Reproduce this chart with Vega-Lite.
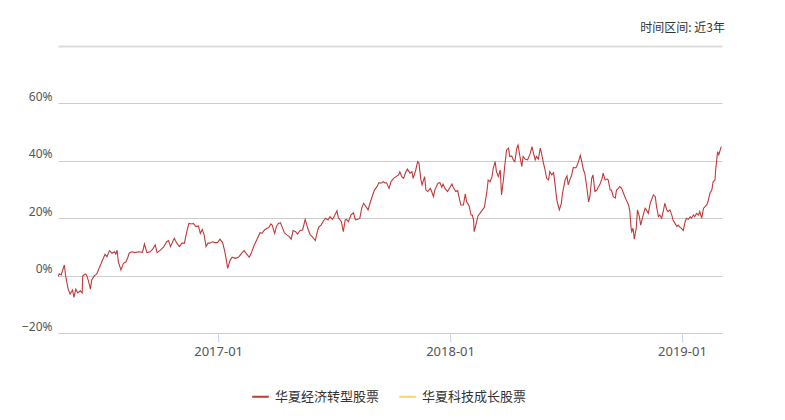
{
  "$schema": "https://vega.github.io/schema/vega-lite/v6.json",
  "width": 664,
  "height": 287,
  "autosize": {"type": "none"},
  "padding": {"left": 58, "top": 46, "right": 63, "bottom": 87},
  "background": "white",
  "title": {"text": "时间区间:  近3年", "anchor": "end", "orient": "top", "offset": 11, "dx": 3, "fontSize": 12, "fontWeight": "normal", "color": "#333333", "font": "Noto Sans CJK SC"},
  "config": {"view": {"stroke": null}},
  "data": {"values": [
    {"date": "2016-04-24", "v": -0.4}, {"date": "2016-04-26", "v": 0.6}, {"date": "2016-04-29", "v": 0.2}, {"date": "2016-05-04", "v": 3.7},
    {"date": "2016-05-06", "v": -0.1}, {"date": "2016-05-10", "v": -4.7}, {"date": "2016-05-13", "v": -6.4}, {"date": "2016-05-17", "v": -5.0},
    {"date": "2016-05-19", "v": -7.6}, {"date": "2016-05-22", "v": -4.7}, {"date": "2016-05-25", "v": -6.0}, {"date": "2016-05-29", "v": -5.3},
    {"date": "2016-06-01", "v": -6.0}, {"date": "2016-06-02", "v": -0.1}, {"date": "2016-06-06", "v": 0.6}, {"date": "2016-06-08", "v": 0.2},
    {"date": "2016-06-11", "v": -1.9}, {"date": "2016-06-14", "v": -4.7}, {"date": "2016-06-16", "v": -1.5}, {"date": "2016-06-20", "v": -0.1},
    {"date": "2016-06-24", "v": 0.6}, {"date": "2016-06-27", "v": 2.2}, {"date": "2016-07-02", "v": 4.8}, {"date": "2016-07-07", "v": 7.4},
    {"date": "2016-07-10", "v": 6.6}, {"date": "2016-07-14", "v": 8.7}, {"date": "2016-07-18", "v": 7.8}, {"date": "2016-07-22", "v": 8.3},
    {"date": "2016-07-24", "v": 7.5}, {"date": "2016-07-26", "v": 8.9}, {"date": "2016-07-28", "v": 4.8}, {"date": "2016-08-01", "v": 2.0},
    {"date": "2016-08-05", "v": 4.3}, {"date": "2016-08-09", "v": 4.8}, {"date": "2016-08-12", "v": 6.4}, {"date": "2016-08-14", "v": 7.8},
    {"date": "2016-08-18", "v": 8.3}, {"date": "2016-08-23", "v": 8.0}, {"date": "2016-08-29", "v": 8.3}, {"date": "2016-09-04", "v": 8.1},
    {"date": "2016-09-07", "v": 11.0}, {"date": "2016-09-11", "v": 8.0}, {"date": "2016-09-16", "v": 8.3}, {"date": "2016-09-20", "v": 9.2},
    {"date": "2016-09-24", "v": 10.7}, {"date": "2016-09-27", "v": 8.0}, {"date": "2016-10-02", "v": 8.9}, {"date": "2016-10-07", "v": 9.9},
    {"date": "2016-10-12", "v": 11.8}, {"date": "2016-10-15", "v": 12.2}, {"date": "2016-10-18", "v": 10.1}, {"date": "2016-10-21", "v": 11.5},
    {"date": "2016-10-24", "v": 13.0}, {"date": "2016-10-28", "v": 11.3}, {"date": "2016-11-01", "v": 10.1}, {"date": "2016-11-05", "v": 11.3},
    {"date": "2016-11-09", "v": 11.3}, {"date": "2016-11-11", "v": 13.6}, {"date": "2016-11-14", "v": 16.5}, {"date": "2016-11-16", "v": 18.2},
    {"date": "2016-11-21", "v": 18.0}, {"date": "2016-11-23", "v": 18.2}, {"date": "2016-11-27", "v": 17.1}, {"date": "2016-12-01", "v": 17.3},
    {"date": "2016-12-04", "v": 14.7}, {"date": "2016-12-07", "v": 16.1}, {"date": "2016-12-10", "v": 14.2}, {"date": "2016-12-13", "v": 10.1},
    {"date": "2016-12-16", "v": 11.3}, {"date": "2016-12-19", "v": 11.3}, {"date": "2016-12-23", "v": 11.8}, {"date": "2016-12-27", "v": 11.5},
    {"date": "2016-12-31", "v": 11.5}, {"date": "2017-01-04", "v": 12.7}, {"date": "2017-01-08", "v": 11.5}, {"date": "2017-01-11", "v": 8.9},
    {"date": "2017-01-14", "v": 5.4}, {"date": "2017-01-16", "v": 2.5}, {"date": "2017-01-20", "v": 5.4}, {"date": "2017-01-23", "v": 6.4},
    {"date": "2017-01-28", "v": 6.0}, {"date": "2017-02-02", "v": 6.4}, {"date": "2017-02-07", "v": 7.8}, {"date": "2017-02-11", "v": 8.7},
    {"date": "2017-02-15", "v": 7.5}, {"date": "2017-02-19", "v": 6.4}, {"date": "2017-02-23", "v": 8.3}, {"date": "2017-02-27", "v": 10.7},
    {"date": "2017-03-04", "v": 13.0}, {"date": "2017-03-08", "v": 15.0}, {"date": "2017-03-11", "v": 14.7}, {"date": "2017-03-15", "v": 15.9},
    {"date": "2017-03-19", "v": 16.5}, {"date": "2017-03-22", "v": 16.8}, {"date": "2017-03-25", "v": 18.0}, {"date": "2017-03-27", "v": 17.6},
    {"date": "2017-03-31", "v": 14.7}, {"date": "2017-04-03", "v": 17.3}, {"date": "2017-04-06", "v": 18.2}, {"date": "2017-04-09", "v": 18.4},
    {"date": "2017-04-12", "v": 16.8}, {"date": "2017-04-15", "v": 15.0}, {"date": "2017-04-19", "v": 14.2}, {"date": "2017-04-23", "v": 13.6},
    {"date": "2017-04-26", "v": 12.7}, {"date": "2017-04-29", "v": 15.7}, {"date": "2017-05-03", "v": 15.3}, {"date": "2017-05-06", "v": 14.5},
    {"date": "2017-05-10", "v": 15.7}, {"date": "2017-05-14", "v": 15.9}, {"date": "2017-05-18", "v": 19.6}, {"date": "2017-05-21", "v": 17.3},
    {"date": "2017-05-23", "v": 15.9}, {"date": "2017-05-26", "v": 14.2}, {"date": "2017-05-29", "v": 13.6}, {"date": "2017-06-03", "v": 12.2},
    {"date": "2017-06-05", "v": 14.2}, {"date": "2017-06-08", "v": 16.8}, {"date": "2017-06-12", "v": 17.6}, {"date": "2017-06-16", "v": 19.1},
    {"date": "2017-06-19", "v": 20.0}, {"date": "2017-06-23", "v": 19.4}, {"date": "2017-06-26", "v": 20.5}, {"date": "2017-06-30", "v": 19.6},
    {"date": "2017-07-03", "v": 20.8}, {"date": "2017-07-07", "v": 22.6}, {"date": "2017-07-09", "v": 20.3}, {"date": "2017-07-14", "v": 18.8},
    {"date": "2017-07-17", "v": 15.3}, {"date": "2017-07-20", "v": 19.4}, {"date": "2017-07-22", "v": 19.6}, {"date": "2017-07-25", "v": 18.8},
    {"date": "2017-07-29", "v": 21.1}, {"date": "2017-08-02", "v": 21.9}, {"date": "2017-08-05", "v": 19.4}, {"date": "2017-08-09", "v": 19.6},
    {"date": "2017-08-12", "v": 20.0}, {"date": "2017-08-15", "v": 23.5}, {"date": "2017-08-18", "v": 25.2}, {"date": "2017-08-20", "v": 24.6},
    {"date": "2017-08-25", "v": 22.9}, {"date": "2017-08-28", "v": 25.2}, {"date": "2017-08-31", "v": 27.3}, {"date": "2017-09-04", "v": 29.8},
    {"date": "2017-09-08", "v": 31.0}, {"date": "2017-09-11", "v": 32.4}, {"date": "2017-09-14", "v": 32.2}, {"date": "2017-09-18", "v": 32.7},
    {"date": "2017-09-21", "v": 32.2}, {"date": "2017-09-23", "v": 32.4}, {"date": "2017-09-27", "v": 30.4}, {"date": "2017-09-30", "v": 32.7},
    {"date": "2017-10-04", "v": 33.9}, {"date": "2017-10-08", "v": 34.5}, {"date": "2017-10-12", "v": 35.1}, {"date": "2017-10-14", "v": 36.2},
    {"date": "2017-10-17", "v": 34.5}, {"date": "2017-10-20", "v": 33.9}, {"date": "2017-10-23", "v": 35.9}, {"date": "2017-10-26", "v": 37.1},
    {"date": "2017-10-30", "v": 35.7}, {"date": "2017-11-02", "v": 36.2}, {"date": "2017-11-04", "v": 33.9}, {"date": "2017-11-08", "v": 36.8},
    {"date": "2017-11-11", "v": 39.7}, {"date": "2017-11-13", "v": 39.2}, {"date": "2017-11-16", "v": 33.6}, {"date": "2017-11-18", "v": 31.6},
    {"date": "2017-11-22", "v": 34.5}, {"date": "2017-11-24", "v": 29.8}, {"date": "2017-11-27", "v": 29.3}, {"date": "2017-12-01", "v": 30.4},
    {"date": "2017-12-03", "v": 29.3}, {"date": "2017-12-06", "v": 27.5}, {"date": "2017-12-08", "v": 29.8}, {"date": "2017-12-13", "v": 32.2},
    {"date": "2017-12-16", "v": 32.4}, {"date": "2017-12-19", "v": 30.8}, {"date": "2017-12-21", "v": 31.9}, {"date": "2017-12-24", "v": 30.4},
    {"date": "2017-12-28", "v": 29.3}, {"date": "2018-01-01", "v": 30.8}, {"date": "2018-01-04", "v": 31.9}, {"date": "2018-01-06", "v": 30.8},
    {"date": "2018-01-10", "v": 29.3}, {"date": "2018-01-13", "v": 29.6}, {"date": "2018-01-15", "v": 27.5}, {"date": "2018-01-18", "v": 24.6},
    {"date": "2018-01-22", "v": 24.6}, {"date": "2018-01-25", "v": 28.5}, {"date": "2018-01-27", "v": 25.8}, {"date": "2018-01-31", "v": 24.3},
    {"date": "2018-02-03", "v": 21.1}, {"date": "2018-02-05", "v": 21.1}, {"date": "2018-02-07", "v": 19.4}, {"date": "2018-02-08", "v": 15.3},
    {"date": "2018-02-10", "v": 17.1}, {"date": "2018-02-14", "v": 20.8}, {"date": "2018-02-17", "v": 21.7}, {"date": "2018-02-21", "v": 22.9},
    {"date": "2018-02-24", "v": 23.8}, {"date": "2018-02-28", "v": 29.3}, {"date": "2018-03-02", "v": 33.3}, {"date": "2018-03-05", "v": 32.7},
    {"date": "2018-03-08", "v": 34.5}, {"date": "2018-03-10", "v": 37.4}, {"date": "2018-03-13", "v": 39.7}, {"date": "2018-03-15", "v": 36.2},
    {"date": "2018-03-18", "v": 34.5}, {"date": "2018-03-21", "v": 36.8}, {"date": "2018-03-23", "v": 28.1}, {"date": "2018-03-26", "v": 33.3},
    {"date": "2018-03-28", "v": 38.0}, {"date": "2018-03-31", "v": 43.8}, {"date": "2018-04-03", "v": 44.4}, {"date": "2018-04-05", "v": 41.5},
    {"date": "2018-04-08", "v": 41.7}, {"date": "2018-04-11", "v": 40.1}, {"date": "2018-04-13", "v": 39.7}, {"date": "2018-04-16", "v": 44.4},
    {"date": "2018-04-18", "v": 45.5}, {"date": "2018-04-21", "v": 41.5}, {"date": "2018-04-24", "v": 38.0}, {"date": "2018-04-26", "v": 41.5},
    {"date": "2018-04-29", "v": 40.6}, {"date": "2018-05-03", "v": 40.3}, {"date": "2018-05-07", "v": 42.4}, {"date": "2018-05-10", "v": 44.9},
    {"date": "2018-05-12", "v": 42.9}, {"date": "2018-05-15", "v": 40.3}, {"date": "2018-05-17", "v": 41.5}, {"date": "2018-05-20", "v": 40.6},
    {"date": "2018-05-23", "v": 44.4}, {"date": "2018-05-25", "v": 42.6}, {"date": "2018-05-28", "v": 39.2}, {"date": "2018-05-30", "v": 37.4},
    {"date": "2018-06-02", "v": 33.9}, {"date": "2018-06-05", "v": 33.3}, {"date": "2018-06-07", "v": 36.2}, {"date": "2018-06-10", "v": 35.1},
    {"date": "2018-06-13", "v": 35.9}, {"date": "2018-06-15", "v": 32.2}, {"date": "2018-06-18", "v": 26.4}, {"date": "2018-06-20", "v": 24.6},
    {"date": "2018-06-22", "v": 22.9}, {"date": "2018-06-25", "v": 25.0}, {"date": "2018-06-27", "v": 28.7}, {"date": "2018-07-01", "v": 33.3},
    {"date": "2018-07-04", "v": 34.7}, {"date": "2018-07-06", "v": 31.6}, {"date": "2018-07-09", "v": 33.7}, {"date": "2018-07-11", "v": 34.7},
    {"date": "2018-07-14", "v": 37.7}, {"date": "2018-07-17", "v": 37.5}, {"date": "2018-07-19", "v": 37.9}, {"date": "2018-07-22", "v": 39.6},
    {"date": "2018-07-25", "v": 41.9}, {"date": "2018-07-27", "v": 40.0}, {"date": "2018-07-30", "v": 36.8}, {"date": "2018-08-01", "v": 35.7},
    {"date": "2018-08-04", "v": 31.2}, {"date": "2018-08-07", "v": 25.7}, {"date": "2018-08-09", "v": 27.4}, {"date": "2018-08-12", "v": 34.0},
    {"date": "2018-08-14", "v": 35.1}, {"date": "2018-08-17", "v": 29.3}, {"date": "2018-08-20", "v": 29.8}, {"date": "2018-08-22", "v": 30.7},
    {"date": "2018-08-25", "v": 31.9}, {"date": "2018-08-28", "v": 33.7}, {"date": "2018-08-30", "v": 35.7}, {"date": "2018-09-02", "v": 33.3},
    {"date": "2018-09-05", "v": 33.7}, {"date": "2018-09-07", "v": 33.3}, {"date": "2018-09-10", "v": 29.8}, {"date": "2018-09-12", "v": 29.8},
    {"date": "2018-09-15", "v": 27.5}, {"date": "2018-09-18", "v": 27.0}, {"date": "2018-09-20", "v": 29.8}, {"date": "2018-09-23", "v": 30.4},
    {"date": "2018-09-25", "v": 31.0}, {"date": "2018-09-28", "v": 30.4}, {"date": "2018-10-01", "v": 28.7}, {"date": "2018-10-04", "v": 27.0},
    {"date": "2018-10-09", "v": 24.6}, {"date": "2018-10-11", "v": 22.3}, {"date": "2018-10-13", "v": 16.5}, {"date": "2018-10-14", "v": 15.3},
    {"date": "2018-10-16", "v": 16.5}, {"date": "2018-10-18", "v": 12.7}, {"date": "2018-10-21", "v": 16.5}, {"date": "2018-10-23", "v": 22.9},
    {"date": "2018-10-26", "v": 20.5}, {"date": "2018-10-28", "v": 17.6}, {"date": "2018-11-01", "v": 21.1}, {"date": "2018-11-04", "v": 23.5},
    {"date": "2018-11-06", "v": 22.9}, {"date": "2018-11-09", "v": 21.7}, {"date": "2018-11-12", "v": 25.2}, {"date": "2018-11-14", "v": 26.4},
    {"date": "2018-11-17", "v": 28.1}, {"date": "2018-11-20", "v": 27.5}, {"date": "2018-11-22", "v": 24.0}, {"date": "2018-11-25", "v": 20.5},
    {"date": "2018-11-27", "v": 21.1}, {"date": "2018-11-30", "v": 20.0}, {"date": "2018-12-03", "v": 22.9}, {"date": "2018-12-05", "v": 25.2},
    {"date": "2018-12-08", "v": 22.9}, {"date": "2018-12-10", "v": 22.3}, {"date": "2018-12-13", "v": 22.9}, {"date": "2018-12-16", "v": 21.1},
    {"date": "2018-12-18", "v": 19.4}, {"date": "2018-12-21", "v": 18.2}, {"date": "2018-12-24", "v": 17.1}, {"date": "2018-12-26", "v": 17.6},
    {"date": "2018-12-29", "v": 16.8}, {"date": "2018-12-31", "v": 16.5}, {"date": "2019-01-03", "v": 15.7}, {"date": "2019-01-06", "v": 18.8},
    {"date": "2019-01-08", "v": 20.0}, {"date": "2019-01-11", "v": 19.6}, {"date": "2019-01-14", "v": 20.5}, {"date": "2019-01-16", "v": 20.0},
    {"date": "2019-01-19", "v": 21.1}, {"date": "2019-01-21", "v": 20.5}, {"date": "2019-01-24", "v": 21.7}, {"date": "2019-01-27", "v": 21.1},
    {"date": "2019-01-29", "v": 22.3}, {"date": "2019-02-01", "v": 20.0}, {"date": "2019-02-04", "v": 23.5}, {"date": "2019-02-09", "v": 24.6},
    {"date": "2019-02-11", "v": 25.8}, {"date": "2019-02-14", "v": 28.7}, {"date": "2019-02-17", "v": 29.8}, {"date": "2019-02-19", "v": 32.7},
    {"date": "2019-02-22", "v": 33.3}, {"date": "2019-02-23", "v": 36.8}, {"date": "2019-02-26", "v": 43.2}, {"date": "2019-02-28", "v": 42.1},
    {"date": "2019-03-03", "v": 44.4}, {"date": "2019-03-04", "v": 44.9}
  ]},
  "mark": {"type": "line", "strokeWidth": 1.1, "clip": true},
  "encoding": {
    "x": {
      "field": "date", "type": "temporal",
      "scale": {"type": "utc", "domain": [{"year": 2016, "month": 4, "date": 24, "utc": true}, {"year": 2019, "month": 3, "date": 5, "utc": true}]},
      "axis": {
        "title": null, "grid": false, "format": "%Y-%m",
        "values": [{"year": 2017, "month": 1, "date": 1, "utc": true}, {"year": 2018, "month": 1, "date": 1, "utc": true}, {"year": 2019, "month": 1, "date": 1, "utc": true}],
        "domain": true, "domainColor": "#cccccc", "domainWidth": 1,
        "ticks": true, "tickColor": "#ccd6eb", "tickSize": 9, "tickWidth": 1,
        "labelPadding": 3, "labelFont": "Noto Sans", "labelFontSize": 13, "labelColor": "#555555"
      }
    },
    "y": {
      "field": "v", "type": "quantitative",
      "scale": {"domain": [-20, 80], "nice": false, "zero": false},
      "axis": {
        "title": null, "values": [-20, 0, 20, 40, 60, 80],
        "labelExpr": "datum.value > 70 ? '' : format(datum.value / 100, '.0%')",
        "grid": true, "gridColor": {"condition": {"test": "datum.value > 70", "value": "#dddddd"}, "value": "#cccccc"},
        "gridWidth": {"condition": {"test": "datum.value > 70", "value": 2}, "value": 1},
        "domain": false, "ticks": false, "tickSize": 0,
        "labelPadding": 6, "labelOffset": -7, "labelFont": "Noto Sans", "labelFontSize": 12, "labelColor": "#555555"
      }
    },
    "color": {
      "datum": "华夏经济转型股票", "type": "nominal",
      "scale": {"domain": ["华夏经济转型股票", "华夏科技成长股票"], "range": ["#c0393b", "#f2d675"]},
      "legend": {
        "title": null, "orient": "none", "direction": "horizontal", "legendX": 193, "legendY": 341,
        "symbolType": "stroke", "symbolSize": 275, "symbolStrokeWidth": 2,
        "labelFont": "Noto Sans CJK SC", "labelFontSize": 13, "labelColor": "#333333",
        "labelOffset": 5, "columnPadding": 15
      }
    }
  }
}
